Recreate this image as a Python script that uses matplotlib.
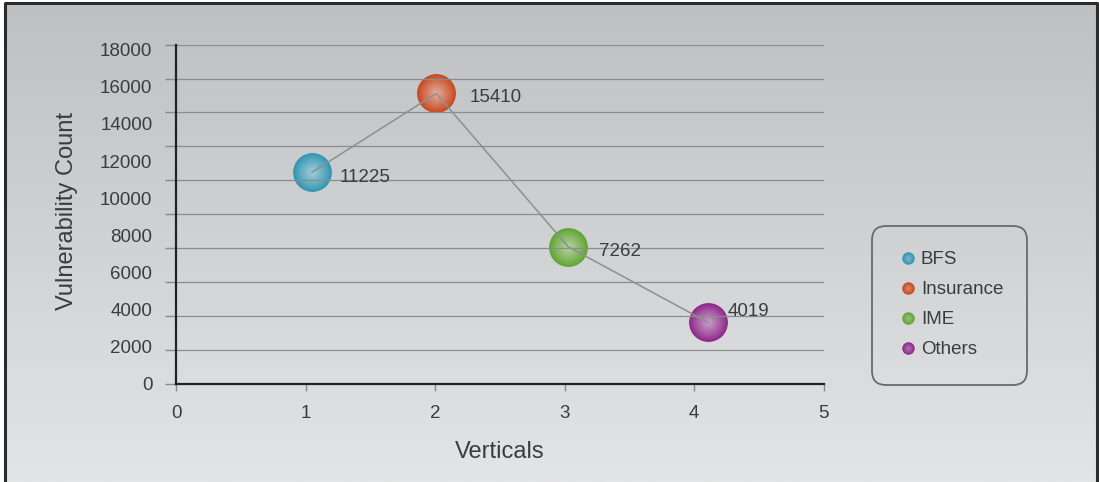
import numpy as np
import matplotlib
matplotlib.use("Agg")
import matplotlib.pyplot as plt
from matplotlib.colors import to_rgb
from matplotlib.patches import FancyBboxPatch

plt.rcParams['font.family'] = ['Liberation Sans', 'DejaVu Sans']

# data
categories = ['BFS', 'Insurance', 'IME', 'Others']
x_pos = [1.05, 2.01, 3.03, 4.11]
counts = [11225, 15410, 7262, 4019]
y_pos = [11225, 15410, 7262, 3250]   # where the Others bubble actually sits
colors = ['#2f95b2', '#c8471d', '#5fa532', '#8d2689']
label_off = [(20, -4), (24, -3), (22, -3), (14, 8)]  # offset of value labels (pt)

y_labels = np.arange(0, 18001, 2000)
y_grid = np.linspace(0, 18000, 11)
x_ticks = np.arange(0, 6)

text_col = '#3c3c3c'
fs = 13.5

fig = plt.figure(figsize=(10.99, 4.82), dpi=100)
fig.patch.set_facecolor('white')

# background: gradient panel with dark frame
bg = fig.add_axes([0, 0, 1, 1])
bg.set_xlim(0, 1099)
bg.set_ylim(482, 0)
bg.axis('off')
top = np.array(to_rgb('#bfc0c2'))
bot = np.array(to_rgb('#e3e4e5'))
t = np.linspace(0, 1, 256).reshape(-1, 1, 1)
img = top + (bot - top) * t
bg.imshow(img, extent=(5, 1097, 482, 3), aspect='auto', zorder=0)
bg.plot([5, 5, 1097, 1097], [490, 3, 3, 490], color='#2b2b2b', lw=2.2, zorder=1)


def bubble(axis, x, y, color, s, n=30, z=3, hl=0.6):
    base = np.array(to_rgb(color))
    light = np.array([0.95, 0.95, 0.95])
    for i in range(n):
        r = 1 - i / n
        mix = (1 - r) ** 0.9 * hl
        c = base + (light - base) * mix
        axis.scatter([x], [y], s=s * r ** 2, color=c, linewidths=0, zorder=z)


# legend box
bg.add_patch(FancyBboxPatch((872, 226), 155, 159,
                            boxstyle='round,pad=0,rounding_size=14',
                            fc='none', ec='#6a6a6a', lw=1.3, zorder=2))
for i, (name, col) in enumerate(zip(categories, colors)):
    yy = 258 + 30 * i
    bubble(bg, 908, yy, col, 80, n=12, z=3, hl=0.4)
    bg.text(921, yy + 1, name, va='center', ha='left', fontsize=fs, color=text_col)

# main chart
rect = [176 / 1099, 1 - 383.7 / 482, 647.5 / 1099, 339 / 482]
ax = fig.add_axes(rect)
ax.set_facecolor('none')
ax.set_xlim(0, 5)
ax.set_ylim(0, 18000)

ax.set_yticks(y_grid)
ax.set_yticklabels([])
ax.tick_params(axis='y', length=8, color='#8a8a8a', width=1)
ax.hlines(y_grid[1:], 0, 5, color='#8c8c8c', lw=0.9, zorder=4)

ax.set_xticks(x_ticks)
ax.set_xticklabels([str(v) for v in x_ticks])
ax.tick_params(axis='x', length=5, color='#8a8a8a', width=1, pad=10,
               labelsize=fs, labelcolor=text_col)

for side in ['top', 'right']:
    ax.spines[side].set_visible(False)
for side in ['left', 'bottom']:
    ax.spines[side].set_color('#222222')
    ax.spines[side].set_linewidth(1.6)
    ax.spines[side].set_zorder(8)

# y tick labels sit on their own axis (different spacing from grid)
lab = fig.add_axes(rect, frameon=False)
lab.set_ylim(0, 18000 * 1.015)
lab.set_xticks([])
lab.set_yticks(y_labels)
lab.set_yticklabels([str(v) for v in y_labels])
lab.tick_params(axis='y', length=0, pad=17, labelsize=fs, labelcolor=text_col)
lab.patch.set_visible(False)

for x, y, col in zip(x_pos, y_pos, colors):
    bubble(ax, x, y, col, 780)

ax.plot(x_pos, y_pos, color='#8f8f8f', lw=1.1, zorder=6)

for x, y, c, off in zip(x_pos, y_pos, counts, label_off):
    ax.annotate(str(c), (x, y), xytext=off, textcoords='offset points',
                ha='left', va='center', fontsize=fs, color=text_col, zorder=7)

ax.set_xlabel('Verticals', fontsize=17, color=text_col, va='center')
ax.xaxis.set_label_coords(0.5, -0.2)
ax.set_ylabel('Vulnerability Count', fontsize=17, color=text_col, va='center')
ax.yaxis.set_label_coords(-0.168, 0.509)

fig.savefig('out.png', dpi=100)
